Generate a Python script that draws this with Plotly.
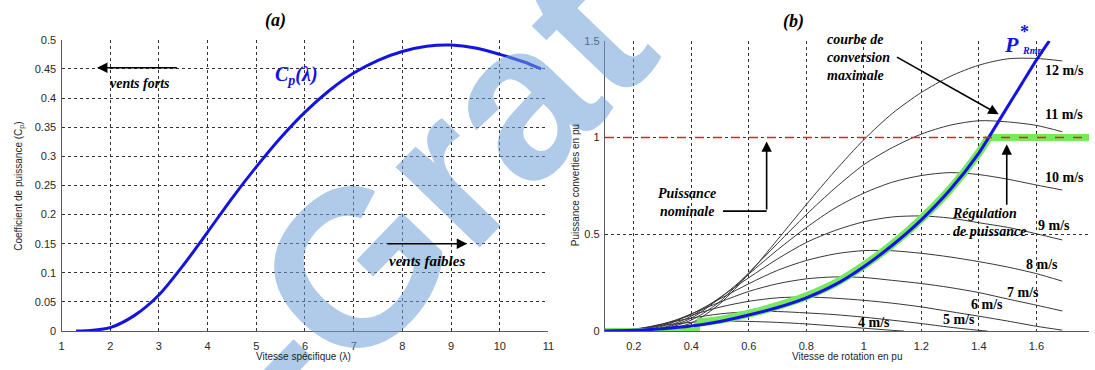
import plotly.graph_objects as go

W, H = 1095, 370

# ---------------- (a) power coefficient vs tip-speed ratio ----------------
tsr = [1.3, 1.5, 2.0, 2.5, 3.0, 3.5, 4.0, 4.5, 5.0, 5.5, 6.0, 6.5, 7.0, 7.5,
       8.0, 8.5, 9.0, 9.5, 10.0, 10.5, 10.85]
cp = [0.0, 0.0005, 0.006, 0.027, 0.062, 0.113, 0.170, 0.228, 0.282, 0.332,
      0.376, 0.413, 0.443, 0.465, 0.480, 0.489, 0.491, 0.486, 0.475, 0.462, 0.450]
tsr_ticks = [1, 2, 3, 4, 5, 6, 7, 8, 9, 10, 11]
cp_ticks = [0, 0.05, 0.1, 0.15, 0.2, 0.25, 0.3, 0.35, 0.4, 0.45, 0.5]
cp_tick_text = ["0", "0.05", "0.1", "0.15", "0.2", "0.25", "0.3", "0.35", "0.4", "0.45", "0.5"]

# ---------------- (b) converted power vs rotor speed (pu) ----------------
omega_pu = [0.1, 0.2, 0.3, 0.4, 0.5, 0.6, 0.7, 0.8, 0.9, 1.0, 1.1, 1.2, 1.3,
            1.4, 1.5, 1.6, 1.69]
p_12ms = [0, 0, 0.007, 0.042, 0.142, 0.296, 0.473, 0.654, 0.828, 0.989, 1.126,
          1.233, 1.316, 1.374, 1.407, 1.409, 1.396]
p_11ms = [0, 0, 0.010, 0.057, 0.153, 0.302, 0.453, 0.602, 0.739, 0.860, 0.949,
          1.018, 1.064, 1.087, 1.081, 1.063, 1.030]
p_10ms = [0, 0, 0.014, 0.067, 0.171, 0.295, 0.420, 0.535, 0.636, 0.713, 0.770,
          0.804, 0.819, 0.809, 0.785, 0.755, 0.729]
p_9ms = [0, 0.001, 0.018, 0.077, 0.174, 0.276, 0.373, 0.458, 0.520, 0.565, 0.590,
         0.595, 0.584, 0.560, 0.536, 0.503, 0.471]
p_8ms = [0, 0.002, 0.025, 0.088, 0.167, 0.245, 0.314, 0.365, 0.399, 0.416, 0.415,
         0.402, 0.383, 0.359, 0.331, 0.297, 0.258]
p_7ms = [0, 0.004, 0.031, 0.089, 0.150, 0.205, 0.245, 0.270, 0.280, 0.277, 0.262,
         0.246, 0.225, 0.199, 0.166, 0.134, 0.104]
p_6ms = [0, 0.005, 0.037, 0.082, 0.124, 0.154, 0.172, 0.176, 0.170, 0.159, 0.144,
         0.125, 0.101, 0.077, 0.052, 0.025, 0.005]
omega_5ms = [0.1, 0.2, 0.3, 0.4, 0.5, 0.6, 0.7, 0.8, 0.9, 1.0, 1.1, 1.2, 1.3, 1.4, 1.43]
p_5ms = [0, 0.008, 0.037, 0.067, 0.089, 0.100, 0.101, 0.094, 0.085, 0.072, 0.056,
         0.039, 0.020, 0.004, 0]
omega_4ms = [0.1, 0.2, 0.3, 0.4, 0.5, 0.6, 0.7, 0.8, 0.9, 1.0, 1.1, 1.14]
p_4ms = [0, 0.011, 0.030, 0.045, 0.052, 0.050, 0.045, 0.037, 0.026, 0.015, 0.004, 0]

wind_labels = ["12 m/s", "11 m/s", "10 m/s", "9 m/s", "8 m/s", "7 m/s", "6 m/s", "5 m/s", "4 m/s"]

# maximum power point curve P*_Rmr
omega_mppt = [0.1, 0.2, 0.3, 0.4, 0.5, 0.6, 0.7, 0.8, 0.9, 1.0, 1.1, 1.2, 1.3,
              1.4, 1.434, 1.5, 1.55, 1.6, 1.645]
p_mppt = [0, 0.004, 0.012, 0.026, 0.05, 0.083, 0.122, 0.172, 0.24, 0.333, 0.445,
          0.575, 0.73, 0.92, 1.0, 1.16, 1.28, 1.40, 1.5]

# regulated power (cut-in, MPPT zone, then limited to nominal)
omega_reg_low = [0.1, 0.42, 0.42]
p_reg_low = [0, 0, 0.045]
omega_reg = [0.42, 0.5, 0.6, 0.7, 0.8, 0.9, 1.0, 1.1, 1.2, 1.3, 1.4, 1.434]
p_reg = [0.045, 0.058, 0.090, 0.130, 0.180, 0.247, 0.339, 0.450, 0.580, 0.733, 0.922, 1.0]
omega_reg_flat = [1.434, 1.783]
p_reg_flat = [1.0, 1.0]

p_nominal = 1.0
omega_ticks = [0.2, 0.4, 0.6, 0.8, 1.0, 1.2, 1.4, 1.6, 1.8]
omega_tick_text = ["0.2", "0.4", "0.6", "0.8", "1", "1.2", "1.4", "1.6", "1.8"]
p_ticks = [0, 0.5, 1, 1.5]
p_tick_text = ["0", "0.5", "1", "1.5"]

BLUE = "rgb(20,20,225)"
GREEN = "rgb(120,232,95)"
GRAY = "rgb(55,55,55)"
SERIF = "Liberation Serif"
SANS = "Liberation Sans"


def xf(px):
    return px / W


def yf(py):
    return 1 - py / H


fig = go.Figure()

# panel (a)
fig.add_trace(go.Scatter(x=tsr, y=cp, mode="lines", line=dict(color=BLUE, width=3, shape="spline", smoothing=0.8),
                         xaxis="x", yaxis="y", hoverinfo="skip"))

# panel (b): turbine curves for each wind speed
curves = [(omega_pu, p_12ms), (omega_pu, p_11ms), (omega_pu, p_10ms), (omega_pu, p_9ms),
          (omega_pu, p_8ms), (omega_pu, p_7ms), (omega_pu, p_6ms), (omega_5ms, p_5ms),
          (omega_4ms, p_4ms)]
for wx, wy in curves:
    fig.add_trace(go.Scatter(x=wx, y=wy, mode="lines",
                             line=dict(color=GRAY, width=1, shape="spline", smoothing=0.8),
                             xaxis="x2", yaxis="y2", hoverinfo="skip"))

# regulated power (green band)
fig.add_trace(go.Scatter(x=omega_reg_low, y=p_reg_low, mode="lines", line=dict(color=GREEN, width=6),
                         xaxis="x2", yaxis="y2", hoverinfo="skip"))
fig.add_trace(go.Scatter(x=omega_reg, y=p_reg, mode="lines",
                         line=dict(color=GREEN, width=8, shape="spline", smoothing=0.8),
                         xaxis="x2", yaxis="y2", hoverinfo="skip"))
fig.add_trace(go.Scatter(x=omega_reg_flat, y=p_reg_flat, mode="lines", line=dict(color=GREEN, width=7),
                         xaxis="x2", yaxis="y2", hoverinfo="skip"))
# optimal curve
fig.add_trace(go.Scatter(x=omega_mppt, y=p_mppt, mode="lines",
                         line=dict(color=BLUE, width=3, shape="spline", smoothing=0.8),
                         xaxis="x2", yaxis="y2", hoverinfo="skip"))
# nominal power
fig.add_trace(go.Scatter(x=[0.1, 1.783], y=[p_nominal, p_nominal], mode="lines",
                         line=dict(color="rgb(235,30,40)", width=1.5, dash="dash"),
                         xaxis="x2", yaxis="y2", hoverinfo="skip"))

axis_common = dict(showgrid=True, gridcolor="rgb(50,50,50)", gridwidth=1, griddash="dot",
                   zeroline=False, showline=True, linecolor="rgb(90,90,90)", linewidth=1.3,
                   ticks="", tickfont=dict(family=SANS, size=11, color="rgb(40,40,40)"),
                   fixedrange=True)

fig.update_layout(
    width=W, height=H, margin=dict(l=0, r=0, t=0, b=0),
    paper_bgcolor="white", plot_bgcolor="white", showlegend=False,
    xaxis=dict(domain=[xf(59), xf(550)], range=[1, 11], tickvals=tsr_ticks, anchor="y",
               ticklabelstandoff=5, **axis_common),
    yaxis=dict(domain=[yf(336), yf(35)], range=[0, 0.5], tickvals=cp_ticks, ticktext=cp_tick_text,
               anchor="x", ticklabelstandoff=2, **axis_common),
    xaxis2=dict(domain=[xf(607), 1.0], range=[0.1, 1.783], tickvals=omega_ticks, ticktext=omega_tick_text,
                anchor="y2", ticklabelstandoff=5, **axis_common),
    yaxis2=dict(domain=[yf(336), yf(36)], range=[0, 1.5], tickvals=p_ticks, ticktext=p_tick_text,
                anchor="x2", ticklabelstandoff=2, **axis_common),
)

ann = []


def label(text, x, y, size=13, color="black", family=SERIF, xref="paper", yref="paper", **kw):
    d = dict(text=text, x=x, y=y, xref=xref, yref=yref, showarrow=False,
             xanchor="center", yanchor="middle",
             font=dict(family=family, size=size, color=color))
    d.update(kw)
    ann.append(d)


def arrow(x0, y0, x1, y1, xref, yref):
    ann.append(dict(x=x1, y=y1, ax=x0, ay=y0, xref=xref, yref=yref, axref=xref, ayref=yref,
                    text="", showarrow=True, arrowhead=2, arrowsize=1.3, arrowwidth=1.6,
                    arrowcolor="black"))


# watermark
label("<b>-Grat</b>", xf(428), yf(192), size=220, color="rgba(110,160,215,0.55)", family=SANS,
      textangle=-46)

# titles and axis labels
label("<b><i>(a)</i></b>", xf(275), yf(15), size=18)
label("<b><i>(b)</i></b>", xf(797), yf(16), size=18)
label("Coefficient de puissance (C<sub>p</sub>)", xf(17), yf(186), size=10, family=SANS,
      color="rgb(30,30,30)", textangle=-90)
label("Vitesse spécifique (λ)", xf(303), yf(362), size=10, family=SANS, color="rgb(30,30,30)")
label("Puissance converties en pu", xf(577), yf(185), size=10, family=SANS,
      color="rgb(30,30,30)", textangle=-90)
label("Vitesse de rotation en pu", xf(851), yf(362), size=10, family=SANS, color="rgb(30,30,30)")

# panel (a) annotations
arrow(3.40, 0.452, 1.73, 0.452, "x", "y")
label("<b><i>vents forts</i></b>", 2.61, 0.425, xref="x", yref="y", size=14)
arrow(7.66, 0.15, 9.33, 0.15, "x", "y")
label("<b><i>vents faibles</i></b>", 8.5, 0.121, xref="x", yref="y", size=15)
label("<b><i>C<sub>p</sub>(λ)</i></b>", 5.83, 0.438, xref="x", yref="y", size=20, color=BLUE)

# panel (b) annotations
label("<b><i>courbe de<br>conversion<br>maximale</i></b>", 0.866, 1.415, xref="x2", yref="y2",
      size=14, xanchor="left", align="left")
arrow(1.110, 1.42, 1.469, 1.12, "x2", "y2")
label("<b><i>P</i></b>", xf(1017), yf(40), size=22, color=BLUE)
label("<b>*</b>", xf(1030), yf(27), size=18, color=BLUE)
label("<b><i>Rmr.</i></b>", xf(1038), yf(46), size=10, color=BLUE)

wind_pos = [(1.697, 1.345), (1.697, 1.12), (1.697, 0.795), (1.662, 0.545), (1.621, 0.345),
            (1.552, 0.20), (1.428, 0.135), (1.331, 0.06), (1.034, 0.045)]
for txt, (lx, ly) in zip(wind_labels, wind_pos):
    label("<b>" + txt + "</b>", lx, ly, xref="x2", yref="y2", size=14)

label("<b><i>Régulation<br>de puissance</i></b>", 1.300, 0.56, xref="x2", yref="y2",
      size=14, xanchor="left", align="left")
arrow(1.497, 0.645, 1.497, 0.965, "x2", "y2")

label("<b><i>Puissance<br>nominale</i></b>", 0.386, 0.665, xref="x2", yref="y2", size=14)
arrow(0.662, 0.62, 0.662, 0.98, "x2", "y2")

fig.add_shape(type="line", x0=0.51, x1=0.662, y0=0.62, y1=0.62, xref="x2", yref="y2",
              line=dict(color="black", width=1.6))

fig.update_layout(annotations=ann)
fig.write_html("out.html")
